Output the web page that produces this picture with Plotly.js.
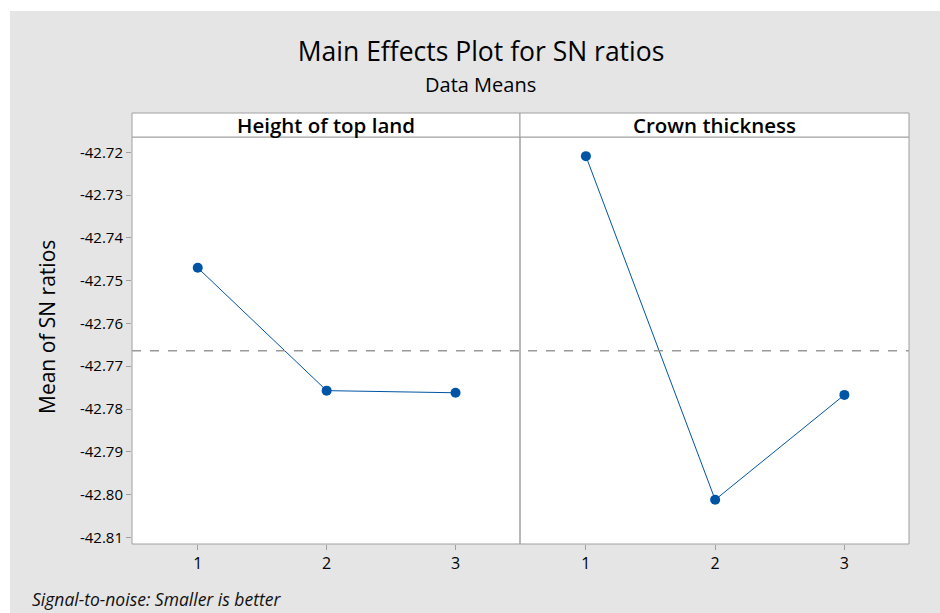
<!DOCTYPE html>
<html>
<head>
<meta charset="utf-8">
<script src="https://cdn.plot.ly/plotly-3.0.1.min.js"></script>
<style>
  html, body { margin: 0; padding: 0; background: #ffffff; width: 940px; height: 613px; overflow: hidden; }
  #chart { position: absolute; left: 10px; top: 11px; width: 930px; height: 602px; }
</style>
</head>
<body>
<div id="chart"></div>
<script>
// ---- data ----
const levels = [1, 2, 3];
const levelLabels = ['1', '2', '3'];
const factorNames = ['Height of top land', 'Crown thickness'];
const heightOfTopLand = [-42.7470, -42.7757, -42.7762];
const crownThickness = [-42.7209, -42.8012, -42.7767];
const grandMean = -42.7664;
const yTickVals = [-42.72, -42.73, -42.74, -42.75, -42.76, -42.77, -42.78, -42.79, -42.80, -42.81];

const yTickText = yTickVals.map(v => v.toFixed(2));
const blue = '#0054a6';
const border = '#a0a0a0';
const font = 'Open Sans, Noto Sans, sans-serif';

const traces = [
  { x: levels, y: heightOfTopLand, xaxis: 'x', yaxis: 'y', type: 'scatter', mode: 'lines+markers',
    line: { color: blue, width: 1 }, marker: { color: blue, size: 10 }, hoverinfo: 'x+y' },
  { x: levels, y: crownThickness, xaxis: 'x2', yaxis: 'y', type: 'scatter', mode: 'lines+markers',
    line: { color: blue, width: 1 }, marker: { color: blue, size: 10 }, hoverinfo: 'x+y' }
];

const split = 388 / 777;
const xCommon = {
  range: [0.49, 3.5], tickvals: levels, ticktext: levelLabels,
  ticks: 'outside', ticklen: 5, tickcolor: border, showgrid: false, zeroline: false,
  showline: false, tickfont: { family: font, size: 16, color: '#000' }, fixedrange: true
};

const layout = {
  width: 930, height: 602,
  margin: { l: 122, r: 31, t: 126, b: 69 },
  paper_bgcolor: '#e5e5e5', plot_bgcolor: '#ffffff',
  showlegend: false,
  title: { text: 'Main Effects Plot for SN ratios', font: { family: font, size: 26.5, color: '#000', weight: 500 },
           x: 0.5065, xref: 'container', xanchor: 'center', y: 1 - 41 / 602, yref: 'container', yanchor: 'middle' },
  xaxis: Object.assign({}, xCommon, { domain: [0, split], anchor: 'y' }),
  xaxis2: Object.assign({}, xCommon, { domain: [split, 1], anchor: 'y' }),
  yaxis: {
    range: [-42.81154, -42.71643], tickvals: yTickVals, ticktext: yTickText,
    ticks: 'outside', ticklen: 5, tickcolor: border, showgrid: false, zeroline: false, showline: false,
    tickfont: { family: font, size: 15, color: '#000' }, fixedrange: true
  },
  shapes: [
    { type: 'line', xref: 'paper', yref: 'y', x0: 0, x1: 1, y0: grandMean, y1: grandMean,
      line: { color: '#999999', width: 1.5, dash: 'dash' } },
    { type: 'rect', xref: 'paper', yref: 'paper', x0: 0, x1: split, y0: 0, y1: 1, line: { color: border, width: 1 } },
    { type: 'rect', xref: 'paper', yref: 'paper', x0: split, x1: 1, y0: 0, y1: 1, line: { color: border, width: 1 } },
    { type: 'rect', xref: 'paper', yref: 'paper', x0: 0, x1: split, y0: 1, y1: 1 + 24 / 407,
      fillcolor: '#ffffff', line: { color: border, width: 1 } },
    { type: 'rect', xref: 'paper', yref: 'paper', x0: split, x1: 1, y0: 1, y1: 1 + 24 / 407,
      fillcolor: '#ffffff', line: { color: border, width: 1 } }
  ],
  annotations: [
    { text: 'Data Means', xref: 'paper', yref: 'paper', x: (480 - 132) / 777, y: (544 - 84) / 407,
      xanchor: 'center', yanchor: 'middle', showarrow: false, font: { family: font, size: 20, color: '#000', weight: 500 } },
    { text: factorNames[0], xref: 'paper', yref: 'paper', x: split / 2, y: 1 + 12 / 407,
      xanchor: 'center', yanchor: 'middle', showarrow: false, font: { family: font, size: 20.5, color: '#000', weight: 600 } },
    { text: factorNames[1], xref: 'paper', yref: 'paper', x: (split + 1) / 2, y: 1 + 12 / 407,
      xanchor: 'center', yanchor: 'middle', showarrow: false, font: { family: font, size: 20.5, color: '#000', weight: 600 } },
    { text: 'Mean of SN ratios', xref: 'paper', yref: 'paper', x: (47 - 132) / 777, y: (544 - 327) / 407,
      xanchor: 'center', yanchor: 'middle', textangle: -90, showarrow: false, font: { family: font, size: 21, color: '#000', weight: 500 } },
    { text: '<i>Signal-to-noise: Smaller is better</i>', xref: 'paper', yref: 'paper', x: (30 - 132) / 777, y: (544 - 599) / 407,
      xanchor: 'left', yanchor: 'middle', showarrow: false, font: { family: font, size: 17.5, color: '#111' } }
  ]
};

Plotly.newPlot('chart', traces, layout, { displayModeBar: false, staticPlot: true });
</script>
</body>
</html>
